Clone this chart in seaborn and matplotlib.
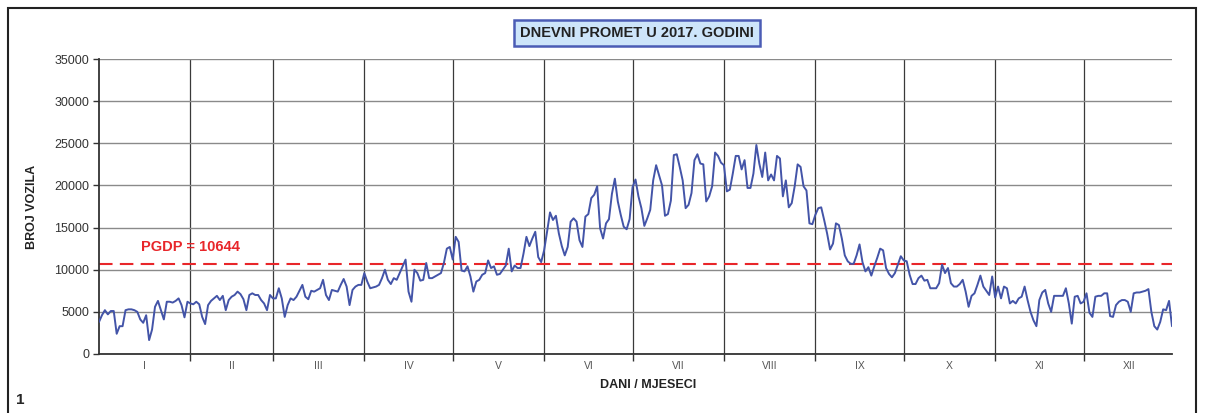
import numpy as np
import pandas as pd
import matplotlib
matplotlib.use("Agg")
import matplotlib.pyplot as plt
import seaborn as sns
from matplotlib.patches import Rectangle

# dnevni promet po mjesecima (broj vozila), ocitano s grafa
jan = [3800, 4600, 5200, 4700, 5100, 5100, 2400, 3300, 3300, 5200, 5300, 5300, 5200, 5000, 4100, 3700,
       4600, 1650, 2900, 5600, 6300, 5200, 4100, 6200, 6200, 6100, 6300, 6600, 5800, 4350, 6200]
feb = [6000, 5900, 6200, 5900, 4400, 3550, 5800, 6300, 6600, 6900, 6400, 6900, 5200, 6400, 6800, 7000,
       7400, 7100, 6500, 5200, 7000, 7200, 7000, 7000, 6400, 6000, 5200, 7000]
mar = [6600, 6600, 7800, 6600, 4400, 5800, 6600, 6400, 6800, 7500, 8200, 6800, 6500, 7500, 7400, 7600,
       7800, 8800, 7000, 6400, 7600, 7500, 7400, 8200, 8900, 8000, 5800, 7600, 8000, 8200, 8200]
apr = [9600, 8600, 7800, 7900, 8000, 8200, 9000, 10000, 8800, 8300, 9000, 8800, 9600, 10400, 11200, 7400,
       6200, 10000, 9600, 8700, 8800, 10800, 9000, 9000, 9200, 9400, 9600, 10800, 12500, 12700]
may = [11200, 13900, 13300, 9900, 9800, 10400, 9200, 7400, 8600, 8800, 9400, 9600, 11100, 10200, 10400, 9400,
       9500, 10000, 10500, 12500, 9800, 10500, 10200, 10200, 11900, 13900, 12800, 13700, 14500, 11500, 10900]
jun = [12300, 14500, 16800, 15900, 16400, 14300, 12800, 11700, 12700, 15700, 16100, 15700, 13500, 12700, 16300,
       16600, 18500, 18900, 19900, 14900, 13700, 15500, 16000, 19000, 20800, 18100, 16500, 15100, 14800, 16000]
jul = [19800, 20700, 18700, 17300, 15200, 16100, 17100, 20600, 22400, 21200, 20000, 16400, 16600, 18200, 23600,
       23700, 22200, 20600, 17300, 17700, 19100, 23000, 23700, 22600, 22500, 18100, 18700, 19900, 23900, 23500,
       22700]
aug = [22400, 19300, 19500, 21400, 23500, 23500, 21900, 23000, 19700, 19700, 21400, 24800, 22600, 21000, 23900,
       20600, 21300, 20600, 23500, 23200, 18700, 20600, 17400, 17900, 19900, 22500, 22200, 19900, 19400, 15500,
       15400]
sep = [16500, 17300, 17400, 15900, 14300, 12400, 13100, 15500, 15300, 13700, 11700, 11000, 10700, 10700, 11700,
       13000, 10900, 9800, 10300, 9300, 10400, 11400, 12500, 12300, 10200, 9500, 9100, 9600, 10600, 11600]
oct = [11100, 11000, 9400, 8300, 8300, 9000, 9300, 8700, 8800, 7800, 7800, 7800, 8400, 10600, 9600, 10200,
       8400, 8000, 8000, 8300, 8800, 7400, 5600, 6900, 7200, 8200, 9300, 8000, 7500, 7000, 9200]
nov = [6700, 8000, 6600, 8000, 7800, 6000, 6300, 6000, 6600, 6800, 8000, 6400, 5000, 4000, 3300, 6400,
       7300, 7600, 6000, 5000, 6900, 6900, 6900, 6900, 7800, 6000, 3600, 6800, 6900, 6000]
dec = [6200, 7200, 4900, 4400, 6800, 6900, 6900, 7200, 7200, 4500, 4400, 5800, 6200, 6400, 6400, 6200,
       5000, 7200, 7300, 7300, 7400, 7500, 7700, 5000, 3300, 2900, 3800, 5300, 5200, 6300, 3300]

months = ["I", "II", "III", "IV", "V", "VI", "VII", "VIII", "IX", "X", "XI", "XII"]
month_days = [31, 28, 31, 30, 31, 30, 31, 31, 30, 31, 30, 31]
pgdp = 10644

promet = jan + feb + mar + apr + may + jun + jul + aug + sep + oct + nov + dec
df = pd.DataFrame({"dan": np.arange(len(promet)), "vozila": promet})

sns.set_theme(style="white")
plt.rcParams["font.family"] = ["Liberation Sans", "DejaVu Sans"]

fig = plt.figure(figsize=(12.05, 4.13), dpi=100)
ax = fig.add_axes([99 / 1205, 1 - 354 / 413, (1172 - 99) / 1205, (354 - 59) / 413])

sns.lineplot(data=df, x="dan", y="vozila", ax=ax, color="#4354a8", lw=1.4, zorder=3)
ax.axhline(pgdp, color="#e8262a", lw=1.5, dashes=(6.5, 3.5), zorder=2)
ax.text(31, 12650, "PGDP = " + str(pgdp), ha="center", va="center", color="#e8262a",
        fontsize=10.5, fontweight="bold")

bounds = np.cumsum([0] + month_days)
centers = (bounds[:-1] + bounds[1:]) / 2

ax.set_xlim(0, len(promet) - 1)
ax.set_ylim(0, 35000)
ax.set_yticks(range(0, 35001, 5000))
ax.set_xticks(bounds[1:-1])
ax.set_xticklabels([])
ax.set_xticks(centers, minor=True)
ax.set_xticklabels(months, minor=True)

ax.tick_params(axis="x", which="major", direction="out", length=5, width=1, color="#333333", bottom=True)
ax.tick_params(axis="x", which="minor", length=0, pad=5, labelsize=7.5, labelcolor="#555555")
ax.tick_params(axis="y", direction="out", length=4, width=1, color="#333333", left=True,
               labelsize=9, labelcolor="#333333", pad=3)

ax.grid(axis="y", color="#8a8a8a", lw=1)
ax.grid(axis="x", which="major", color="#3a3a3a", lw=0.9)
ax.set_axisbelow(True)

for s in ["top", "right"]:
    ax.spines[s].set_visible(False)
for s in ["left", "bottom"]:
    ax.spines[s].set_color("#333333")
    ax.spines[s].set_linewidth(1.3)

ax.set_ylabel("BROJ VOZILA", fontsize=9, fontweight="bold", color="#222222")
ax.set_xlabel("DANI / MJESECI", fontsize=9, fontweight="bold", color="#222222")
ax.yaxis.set_label_coords(-0.057, 0.5)
ax.xaxis.set_label_coords(0.512, -0.085)

fig.text(637 / 1205, 1 - 33 / 413, "DNEVNI PROMET U 2017. GODINI", ha="center", va="center",
         fontsize=10.5, fontweight="bold", color="#222222",
         bbox=dict(boxstyle="square,pad=0.4", fc="#cde5fa", ec="#4b5cb5", lw=1.8))

fig.text(20 / 1205, 1 - 400 / 413, "1", ha="center", va="center", fontsize=11, fontweight="bold")
fig.patches.append(Rectangle((8 / 1205, -0.05), (1196 - 8) / 1205, 1.05 - 8 / 413,
                             transform=fig.transFigure, fill=False, ec="#222222", lw=1.5))

fig.savefig("out.png", dpi=100, facecolor="white")
